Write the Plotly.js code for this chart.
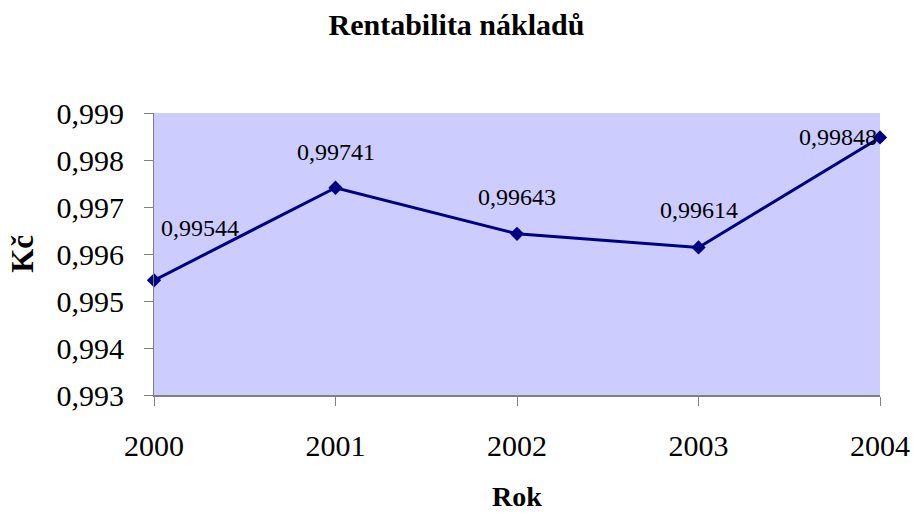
<!DOCTYPE html>
<html><head><meta charset="utf-8">
<script src="https://cdn.plot.ly/plotly-3.0.1.min.js"></script>
<style>html,body{margin:0;padding:0;background:#fff}</style>
</head><body>
<div id="chart" style="width:913px;height:515px"></div>
<script>
const years = [2000, 2001, 2002, 2003, 2004];
const values = [0.99544, 0.99741, 0.99643, 0.99614, 0.99848];
const labels = ["0,99544", "0,99741", "0,99643", "0,99614", "0,99848"];
const labelShiftX = [46, 0, 0, 0, -42];
const labelShiftY = [52, 36, 37, 37, 0];

const font = "'Liberation Serif', 'Times New Roman', serif";

const trace = {
  x: years, y: values, type: 'scatter', mode: 'lines+markers',
  line: {color: '#000080', width: 3},
  marker: {symbol: 'diamond', size: 11, color: '#000080'},
  cliponaxis: false, hoverinfo: 'none'
};

const annotations = years.map((yr, i) => ({
  x: yr, y: values[i], xref: 'x', yref: 'y', text: labels[i],
  showarrow: false, xshift: labelShiftX[i], yshift: labelShiftY[i],
  font: {family: font, size: 24, color: '#000'}
}));

annotations.push({
  text: '<b>Kč</b>', xref: 'paper', yref: 'paper', x: -0.182, y: 0.5,
  xanchor: 'center', yanchor: 'middle', textangle: -90, showarrow: false,
  font: {family: font, size: 31, color: '#000'}
});
annotations.push({
  text: '<b>Rok</b>', xref: 'paper', yref: 'paper', x: 0.5, y: -0.36,
  xanchor: 'center', yanchor: 'middle', showarrow: false,
  font: {family: font, size: 28, color: '#000'}
});

const layout = {
  width: 913, height: 515,
  margin: {l: 154, r: 33, t: 113, b: 120},
  paper_bgcolor: '#ffffff', plot_bgcolor: '#CCCCFF',
  separators: ', ',
  showlegend: false,
  title: {text: '<b>Rentabilita nákladů</b>', font: {family: font, size: 30, color: '#000'}, x: 0.5, xanchor: 'center', y: 0.952, yanchor: 'middle'},
  xaxis: {
    range: [2000, 2004], tickvals: years, ticktext: years.map(String),
    showgrid: false, zeroline: false, showline: true, linecolor: '#808080', linewidth: 2,
    ticks: 'outside', ticklen: 9, tickcolor: '#808080', tickwidth: 1,
    ticklabelstandoff: 14,
    tickfont: {family: font, size: 30, color: '#000'}
  },
  yaxis: {
    range: [0.993, 0.999], dtick: 0.001, tick0: 0.993, tickformat: '.3f',
    showgrid: false, zeroline: false, showline: true, linecolor: '#808080', linewidth: 1,
    ticks: 'outside', ticklen: 9, tickcolor: '#808080', tickwidth: 1,
    ticklabelstandoff: 14,
    tickfont: {family: font, size: 30, color: '#000'}
  },
  annotations: annotations
};

Plotly.newPlot('chart', [trace], layout, {displayModeBar: false, staticPlot: true});
</script>
</body></html>
